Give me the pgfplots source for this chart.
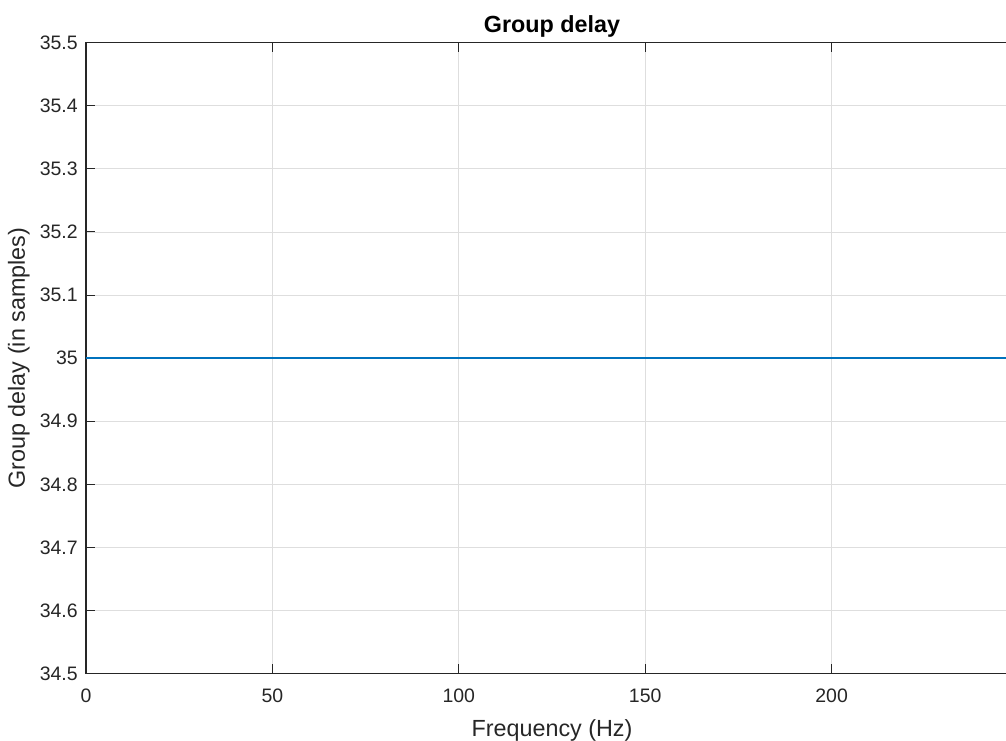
\documentclass[border=0pt]{standalone}
\usepackage{fontspec}
\setmainfont{Liberation Sans}
\usepackage{pgfplots}
\pgfplotsset{compat=1.18}
\definecolor{mblue}{rgb}{0,0.447,0.741}
\definecolor{axgray}{rgb}{0.15,0.15,0.15}
\begin{document}
\begin{tikzpicture}
\begin{axis}[
  scale only axis,
  width=699pt, height=473.25pt,
  xmin=0, xmax=250,
  ymin=34.5, ymax=35.5,
  axis line style={draw=axgray, line width=0.8pt},
  xtick={0,50,100,150,200},
  ytick={34.5,34.6,34.7,34.8,34.9,35,35.1,35.2,35.3,35.4,35.5},
  yticklabel style={/pgf/number format/fixed, /pgf/number format/precision=1},
  tick align=inside,
  major tick length=7pt,
  tick style={draw=axgray, line width=0.7pt},
  grid=major,
  grid style={draw=black!13, line width=0.6pt},
  /pgf/number format/assume math mode=true,
  ticklabel style={font=\fontsize{14.6}{16}\selectfont, text=axgray},
  xticklabel style={anchor=north, inner sep=0pt, yshift=-11.5pt},
  yticklabel style={anchor=east, inner sep=0pt, xshift=-6pt},
  xlabel={Frequency (Hz)},
  ylabel={Group delay (in samples)},
  label style={font=\fontsize{17.5}{19}\selectfont, text=axgray},
  xlabel style={at={(axis description cs:0.5,0)}, anchor=north, inner sep=0pt, yshift=-34pt},
  ylabel style={at={(axis description cs:-0.0601,0.5)}, anchor=south, rotate=0, inner sep=0pt},
  title={\textbf{Group delay}},
  title style={font=\fontsize{17.5}{19}\selectfont, text=black, at={(axis description cs:0.5,1)}, anchor=base, inner sep=0pt, yshift=1.3pt},
]
\addplot[mblue, line width=1.1pt] coordinates {(0,35) (250,35)};
\end{axis}
\pgfresetboundingbox
\path ([xshift=-64.5pt,yshift=-50.5pt]current axis.south west) rectangle ([xshift=-9pt,yshift=32pt]current axis.north east);
\end{tikzpicture}
\end{document}
